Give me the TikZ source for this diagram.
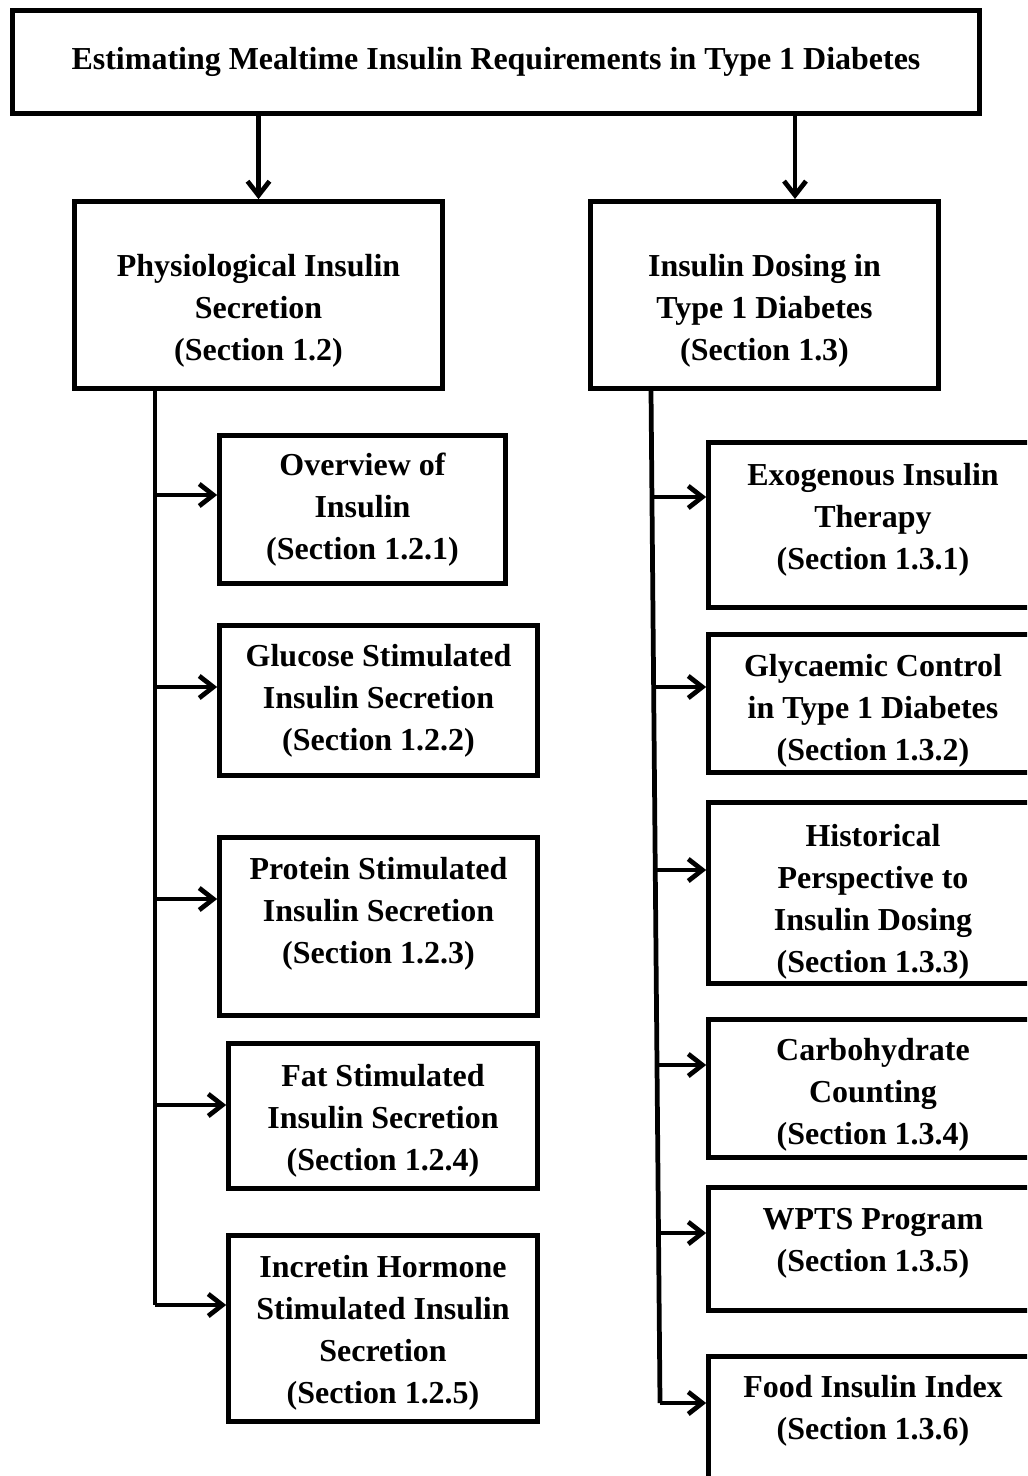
\documentclass[tikz,border=0pt]{standalone}
\usepackage{fontspec}
\setmainfont{Liberation Serif}
\usetikzlibrary{arrows.meta}
\tikzset{
    box/.style 2 args={draw, line width=2.7pt, align=center, inner sep=0pt,
        minimum width=#1, minimum height=#2,
        font=\bfseries\fontsize{18.2}{23.9}\selectfont},
    arr/.style={line width=2.7pt, -{Straight Barb[length=8pt,width=12.5pt]}},
    trunk/.style={line width=2.7pt}
}
\begin{document}
\begin{tikzpicture}[x=0.02cm, y=-0.02cm]
    \useasboundingbox (0,0) rectangle (1027,1476);
    \clip (0,0) rectangle (1027,1476);
    % top and the two sections
    \node[box={19.34cm}{2.06cm}] (top) at (496,62) {Estimating Mealtime Insulin Requirements in Type 1 Diabetes};
    \node[box={7.36cm}{3.74cm}] (L) at (258.5,295) {\mbox{}\\[0.22cm]Physiological Insulin\\Secretion\\(Section 1.2)};
    \node[box={6.96cm}{3.74cm}] (R) at (764.5,295) {\mbox{}\\[0.22cm]Insulin Dosing in\\Type 1 Diabetes\\(Section 1.3)};
    \coordinate (rin) at (795,199);
    \draw[arr] (top.south -| L.north) -- (L.north);
    \draw[arr] (top.south -| rin) -- (rin);
    % section 1.2
    \node[box={5.72cm}{2.96cm}] (L1) at (362.5,509.5) {Overview of\\Insulin\\(Section 1.2.1)};
    \node[box={6.36cm}{3.0cm}] (L2) at (378.5,700.5) {Glucose Stimulated\\Insulin Secretion\\(Section 1.2.2)};
    \node[box={6.36cm}{3.56cm}] (L3) at (378.5,926.5) {Protein Stimulated\\Insulin Secretion\\(Section 1.2.3)\\[-0.2cm]};
    \node[box={6.18cm}{2.9cm}] (L4) at (383,1116) {\mbox{}\\[-0.22cm]Fat Stimulated\\Insulin Secretion\\(Section 1.2.4)};
    \node[box={6.18cm}{3.72cm}] (L5) at (383,1328.5) {\mbox{}\\[-0.22cm]Incretin Hormone\\Stimulated Insulin\\Secretion\\(Section 1.2.5)};
    \coordinate (lt1) at (155,495);
    \coordinate (lt2) at (155,687);
    \coordinate (lt3) at (155,899);
    \coordinate (lt4) at (155,1105);
    \coordinate (lt5) at (155,1305);
    \draw[trunk] (L.south -| lt1) -- (lt5);
    \foreach \i in {1,...,5}
        \draw[arr] (lt\i) -- (lt\i -| L\i.west);
    % section 1.3
    \node[box={6.58cm}{3.30cm}] (R1) at (873,525) {Exogenous Insulin\\Therapy\\(Section 1.3.1)\\[-0.48cm]};
    \node[box={6.58cm}{2.76cm}] (R2) at (873,703.5) {\mbox{}\\[-0.1cm]Glycaemic Control\\in Type 1 Diabetes\\(Section 1.3.2)};
    \node[box={6.58cm}{3.62cm}] (R3) at (873,893) {\mbox{}\\[-0.06cm]Historical\\Perspective to\\Insulin Dosing\\(Section 1.3.3)};
    \node[box={6.58cm}{2.76cm}] (R4) at (873,1088.5) {\mbox{}\\[-0.14cm]Carbohydrate\\Counting\\(Section 1.3.4)};
    \node[box={6.58cm}{2.46cm}] (R5) at (873,1249) {WPTS Program\\(Section 1.3.5)\\[-0.48cm]};
    \node[box={6.58cm}{3.22cm}] (R6) at (873,1437) {Food Insulin Index\\(Section 1.3.6)\\[0.36cm]};
    \coordinate (rt0) at (651,391);
    \coordinate (rt1) at (652,497);
    \coordinate (rt2) at (653.5,687);
    \coordinate (rt3) at (655,870);
    \coordinate (rt4) at (657,1065);
    \coordinate (rt5) at (658.5,1233);
    \coordinate (rt6) at (660,1403);
    \draw[trunk] (rt0) -- (rt6);
    \foreach \i in {1,...,6}
        \draw[arr] (rt\i) -- (rt\i -| R\i.west);
\end{tikzpicture}
\end{document}
